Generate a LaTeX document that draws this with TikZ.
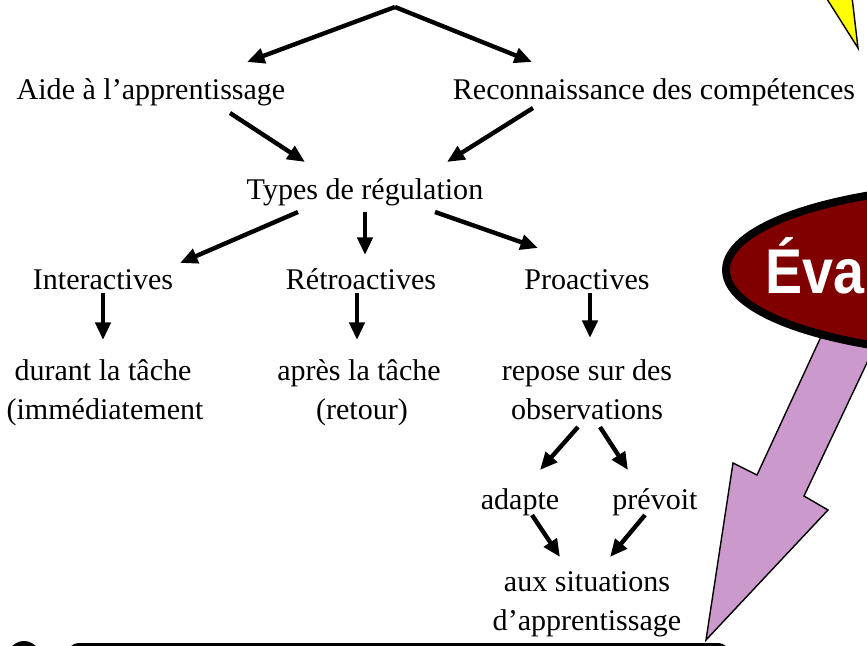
\documentclass[tikz,border=0pt]{standalone}
\usepackage{fontspec}
\setmainfont{Liberation Serif}
\newfontfamily\evafont{Liberation Sans}
\usetikzlibrary{
  arrows.meta,
}
\tikzstyle{link} = [
  -{Triangle[length=10pt,width=8.5pt]},
  line width=2.5pt,
  black,
]
\tikzstyle{txt} = [
  inner sep=0pt,
  anchor=base,
  font=\fontsize{17.1}{21}\selectfont,
]
\definecolor{evalred}{RGB}{128, 0, 0}
\definecolor{lilac}{RGB}{204, 153, 204}
\definecolor{bolt}{RGB}{255, 255, 0}

\begin{document}
\begin{tikzpicture}[x=0.02cm, y=-0.02cm]

        \useasboundingbox (0,0) rectangle (867,646);
        \clip (0,0) rectangle (867,646);

        % Decorations on the right
        \filldraw [fill=bolt, line width=0.8pt] (815,-20) -- (858,48) -- (850,-20) -- cycle;

        \filldraw [fill=lilac, line width=0.8pt]
              (838,300) -- (757,475) -- (733,463) -- (706,640)
              -- (828,510) -- (804,496) -- (900,293) -- cycle;

        \filldraw [fill=evalred, line width=4.5pt] (1000,270) ellipse [x radius=274, y radius=85];
        \node [anchor=base west, inner sep=0pt, text=white, xscale=0.88,
               font=\evafont\bfseries\fontsize{36}{40}\selectfont] (eva) at (765,293) {Éva};

        % Bottom frame
        \fill [black, rounded corners=6pt] (68,643) rectangle (729,700);
        \fill [black] (24,667) ellipse [x radius=20, y radius=26];

        % Tree
        \coordinate (apex) at (395,7);

        \node [txt] (aide) at (151,99) {Aide à l’apprentissage};
        \node [txt] (reco) at (654,99) {Reconnaissance des compétences};

        \node [txt] (types) at (365,199) {Types de régulation};

        \node [txt] (inter) at (103,289) {Interactives};
        \node [txt] (retro) at (361,289) {Rétroactives};
        \node [txt] (proac) at (587,289) {Proactives};

        \node [txt] (durant) at (103,380) {durant la tâche};
        \node [txt] (immed) at (105,419) {(immédiatement};
        \node [txt] (apres) at (359,380) {après la tâche};
        \node [txt] (retour) at (362,419) {(retour)};
        \node [txt] (repose) at (587,380) {repose sur des};
        \node [txt] (obs) at (587,419) {observations};

        \node [txt] (adapte) at (520,509) {adapte};
        \node [txt] (prevoit) at (655,509) {prévoit};

        \node [txt] (aux) at (587,591) {aux situations};
        \node [txt] (appr) at (587,630) {d’apprentissage};

        % Arrows
        \draw [link] (apex) -- ([shift={(96,-37)}]aide.base);
        \draw [link] (apex) -- ([shift={(-122,-37)}]reco.base);

        \draw [link] ([shift={(79,14)}]aide.base) -- ([shift={(-60,-37)}]types.base);
        \draw [link] ([shift={(-121,9)}]reco.base) -- ([shift={(82,-37)}]types.base);

        \draw [link] ([shift={(-67,13)}]types.base) -- ([shift={(77,-26)}]inter.base);
        \draw [link] ([shift={(0,13)}]types.base) -- ([shift={(4,-34)}]retro.base);
        \draw [link] ([shift={(70,13)}]types.base) -- ([shift={(-49,-41)}]proac.base);

        \draw [link] ([shift={(0,4)}]inter.base) -- ([shift={(0,-40)}]durant.base);
        \draw [link] ([shift={(-4,4)}]retro.base) -- ([shift={(-2,-40)}]apres.base);
        \draw [link] ([shift={(3,4)}]proac.base) -- ([shift={(3,-42)}]repose.base);

        \draw [link] ([shift={(-9,8)}]obs.base) -- ([shift={(20,-39)}]adapte.base);
        \draw [link] ([shift={(13,8)}]obs.base) -- ([shift={(-27,-39)}]prevoit.base);

        \draw [link] ([shift={(12,6)}]adapte.base) -- ([shift={(-27,-34)}]aux.base);
        \draw [link] ([shift={(-10,6)}]prevoit.base) -- ([shift={(23,-34)}]aux.base);

\end{tikzpicture}
\end{document}
